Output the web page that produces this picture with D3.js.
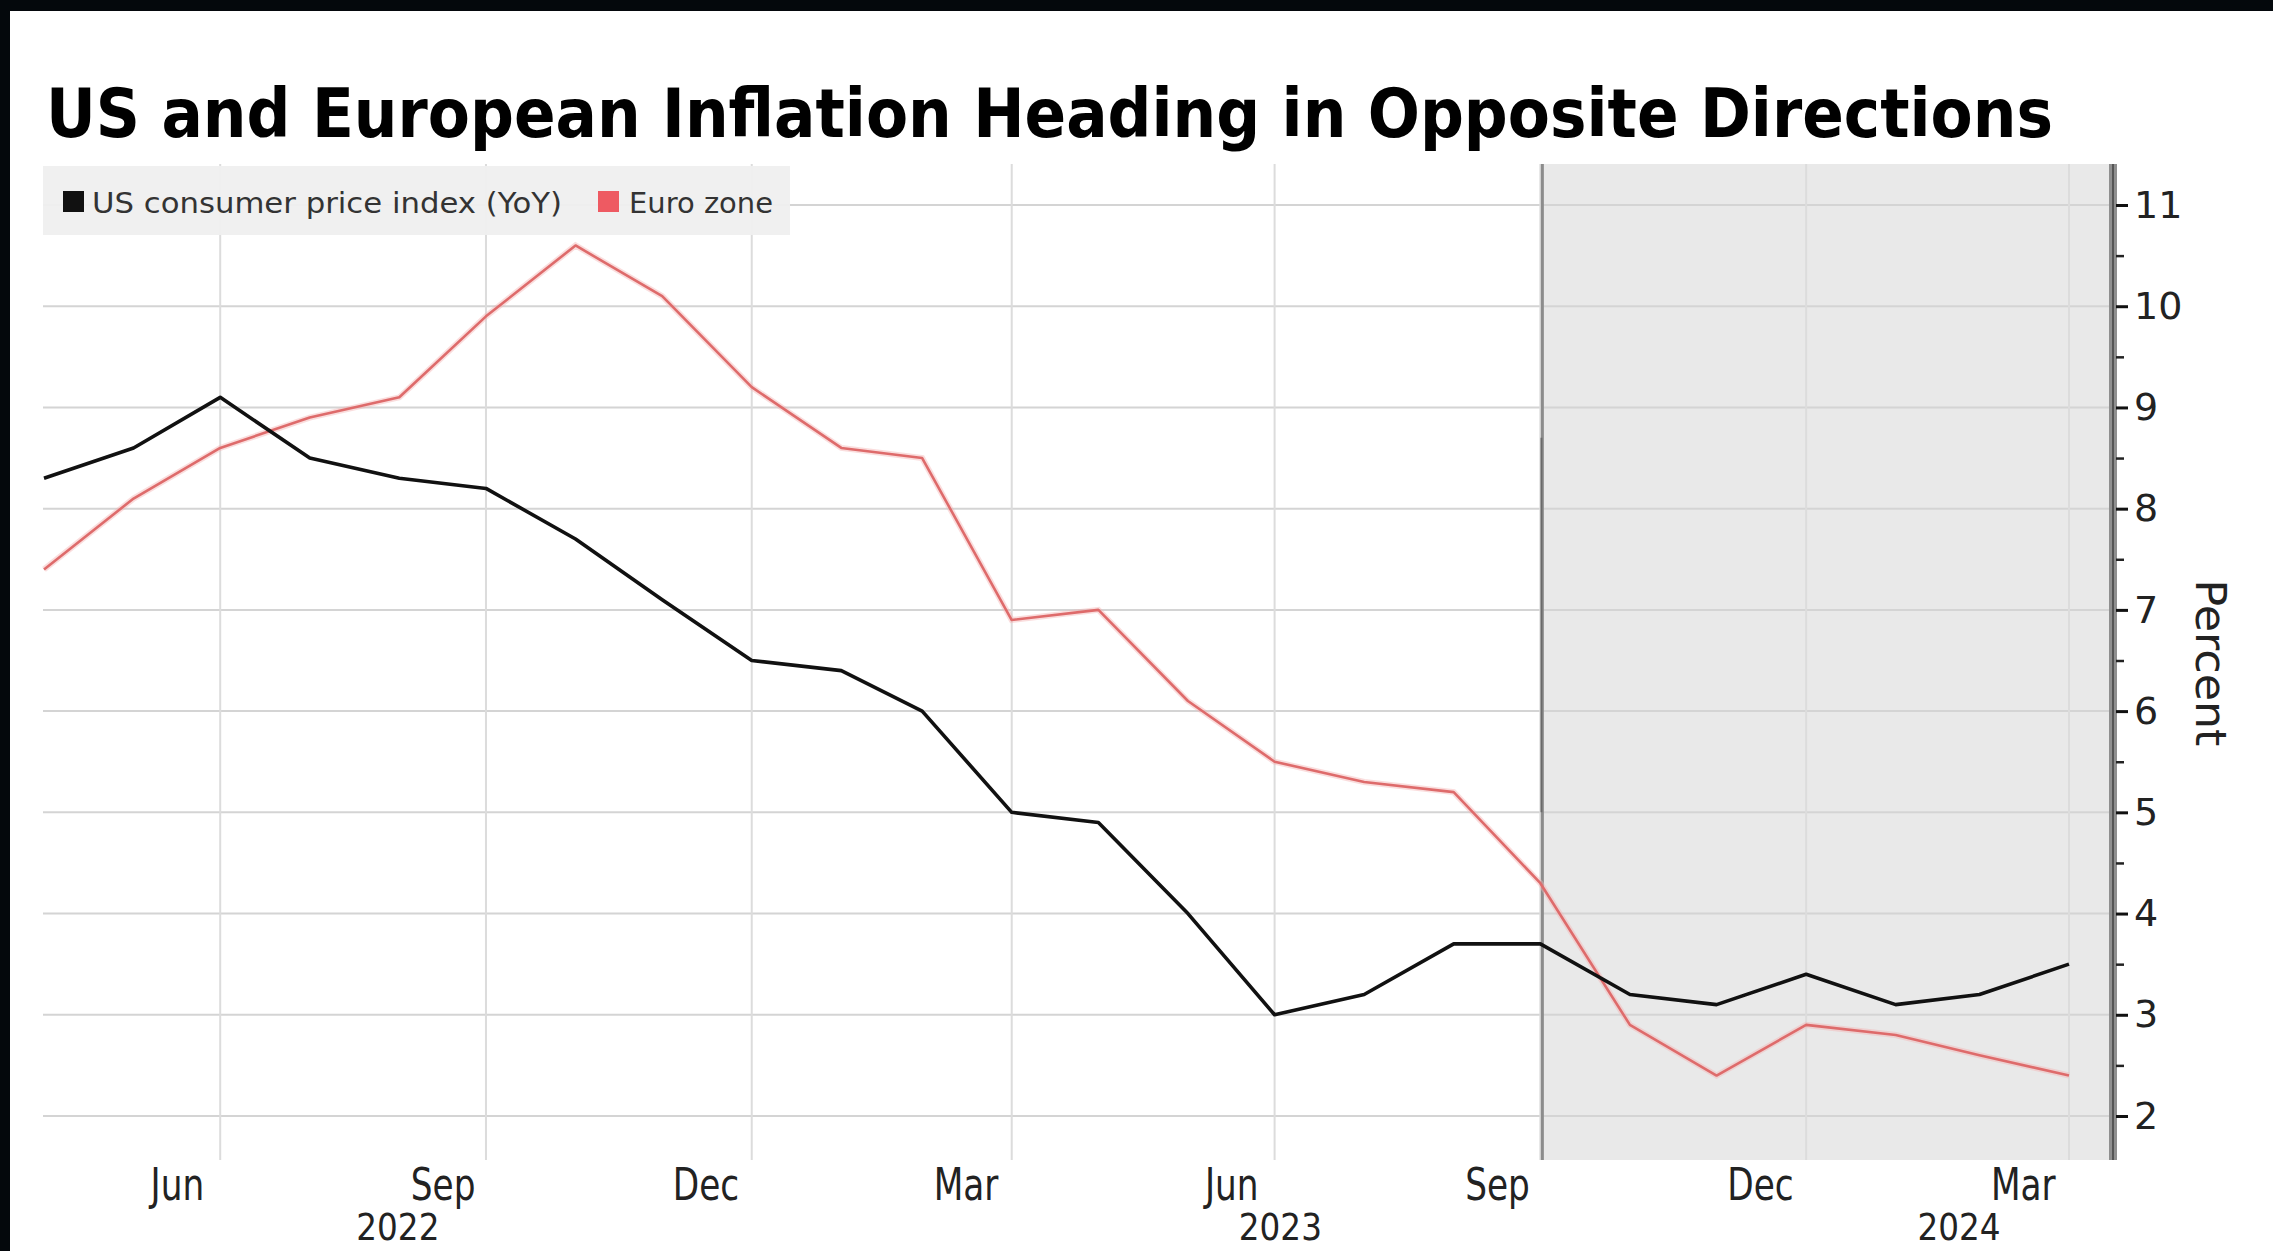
<!DOCTYPE html>
<html><head><meta charset="utf-8">
<script src="https://cdn.jsdelivr.net/npm/d3@7"></script>
<style>html,body{margin:0;padding:0;background:#fff;overflow:hidden}</style>
</head><body><svg id="c" width="2273" height="1251"></svg>
<script>
// ---- data ----
const months = ["2022-04","2022-05","2022-06","2022-07","2022-08","2022-09","2022-10","2022-11","2022-12",
  "2023-01","2023-02","2023-03","2023-04","2023-05","2023-06","2023-07","2023-08","2023-09","2023-10","2023-11","2023-12",
  "2024-01","2024-02","2024-03"];
const usCPI   = [8.3,8.6,9.1,8.5,8.3,8.2,7.7,7.1,6.5,6.4,6.0,5.0,4.9,4.0,3.0,3.2,3.7,3.7,3.2,3.1,3.4,3.1,3.2,3.5];
const euroCPI = [7.4,8.1,8.6,8.9,9.1,9.9,10.6,10.1,9.2,8.6,8.5,6.9,7.0,6.1,5.5,5.3,5.2,4.3,2.9,2.4,2.9,2.8,2.6,2.4];
const monthTicks = ["2022-06","2022-09","2022-12","2023-03","2023-06","2023-09","2023-12","2024-03"];
const monthTickLabels = ["Jun","Sep","Dec","Mar","Jun","Sep","Dec","Mar"];
const yearLabels = ["2022","2023","2024"];
const yTicks = [2,3,4,5,6,7,8,9,10,11];
const yMinorTicks = [2.5,3.5,4.5,5.5,6.5,7.5,8.5,9.5,10.5];
const shadeStart = "2023-09";
const seriesNames = ["US consumer price index (YoY)","Euro zone"];
const title = "US and European Inflation Heading in Opposite Directions";

// ---- layout ----
const W = 2273, H = 1251;
const plotTop = 164, plotBottom = 1160, plotRight = 2109, plotLeft = 43;
const FONT = "'DejaVu Sans', sans-serif";
const parseM = d3.timeParse("%Y-%m");
const parseD = d3.timeParse("%Y-%m-%d");
const monthEnd = s => d3.timeDay.offset(d3.timeMonth.offset(parseM(s), 1), -1);
const midMonth = s => d3.timeDay.offset(parseM(s), 14);

const x = d3.scaleTime().domain([monthEnd(months[0]), monthEnd(months[months.length-1])]).range([44, 2069]);
const y = d3.scaleLinear().domain([2, 11]).range([1116, 205]);

const svg = d3.select("#c");
svg.append("rect").attr("width", W).attr("height", H).attr("fill", "#fff");
// dark frame edges
svg.append("rect").attr("x",0).attr("y",0).attr("width",W).attr("height",11).attr("fill","#04080c");
svg.append("rect").attr("x",0).attr("y",0).attr("width",10).attr("height",H).attr("fill","#04080c");

// shaded region
const xs = x(monthEnd(shadeStart));
svg.append("rect").attr("x", xs+2).attr("y", plotTop).attr("width", plotRight - xs - 2)
  .attr("height", plotBottom - plotTop).attr("fill", "#e9e9e9");

// gridlines
const g = svg.append("g");
g.selectAll("line.h").data(yTicks).join("line")
  .attr("x1", plotLeft).attr("x2", plotRight).attr("y1", d=>y(d)).attr("y2", d=>y(d))
  .attr("stroke", "#d4d4d4").attr("stroke-width", 2);
g.selectAll("line.v").data(monthTicks).join("line")
  .attr("x1", d=>x(monthEnd(d))).attr("x2", d=>x(monthEnd(d)))
  .attr("y1", plotTop).attr("y2", plotBottom)
  .attr("stroke", "#dcdcdc").attr("stroke-width", 2);

// shade edge line
svg.append("line").attr("x1", xs+2).attr("x2", xs+2).attr("y1", plotTop).attr("y2", plotBottom)
  .attr("stroke", "#8c8c8c").attr("stroke-width", 3);
svg.append("line").attr("x1", xs+1).attr("x2", xs+1).attr("y1", y(8.7)).attr("y2", y(5.0))
  .attr("stroke", "#555").attr("stroke-width", 2).attr("opacity", 0.6);

// lines
const line = d3.line().x((d,i)=>x(monthEnd(months[i]))).y(d=>y(d));
svg.append("path").datum(euroCPI).attr("d", line).attr("fill","none")
  .attr("stroke","#f3b4b4").attr("stroke-width",6).attr("opacity",0.45);
svg.append("path").datum(euroCPI).attr("d", line).attr("fill","none")
  .attr("stroke","#de6b6b").attr("stroke-width",2.6).attr("stroke-linejoin","round");
svg.append("path").datum(usCPI).attr("d", line).attr("fill","none")
  .attr("stroke","#111").attr("stroke-width",3.6).attr("stroke-linejoin","round");

// legend
const lg = svg.append("g");
lg.append("rect").attr("x",43).attr("y",166).attr("width",747).attr("height",69).attr("fill","#efefef").attr("opacity",0.95);
lg.append("rect").attr("x",63).attr("y",191).attr("width",21).attr("height",21).attr("fill","#111");
lg.append("text").attr("x",92).attr("y",213).text(seriesNames[0])
  .attr("font-family",FONT).attr("font-size",29).attr("fill","#333")
  .attr("textLength",470).attr("lengthAdjust","spacingAndGlyphs");
lg.append("rect").attr("x",598).attr("y",191).attr("width",21).attr("height",21).attr("fill","#ee5a62");
lg.append("text").attr("x",629).attr("y",213).text(seriesNames[1])
  .attr("font-family",FONT).attr("font-size",29).attr("fill","#333")
  .attr("textLength",144).attr("lengthAdjust","spacingAndGlyphs");

// title
svg.append("text").attr("x",46).attr("y",137).text(title)
  .attr("font-family",FONT).attr("font-weight","bold").attr("font-size",67).attr("fill","#000")
  .attr("textLength",2007).attr("lengthAdjust","spacingAndGlyphs");

// right axis bar
svg.append("rect").attr("x",plotRight).attr("y",plotTop).attr("width",8).attr("height",plotBottom-plotTop).attr("fill","#8f8f8f");
svg.append("line").attr("x1",plotRight+4).attr("x2",plotRight+4).attr("y1",plotTop).attr("y2",plotBottom).attr("stroke","#555").attr("stroke-width",2);

const yAxis = d3.axisRight(y).tickValues(yTicks).tickSize(12).tickPadding(6).tickFormat(d3.format("d"));
const ya = svg.append("g").attr("transform",`translate(${plotRight+7},0)`).call(yAxis);
ya.select(".domain").remove();
ya.selectAll(".tick line").attr("stroke","#111").attr("stroke-width",3);
ya.selectAll(".tick text").attr("font-family",FONT).attr("font-size",38).attr("fill","#222");
const yMinor = d3.axisRight(y).tickValues(yMinorTicks).tickSize(8).tickFormat("");
const ym = svg.append("g").attr("transform",`translate(${plotRight+7},0)`).call(yMinor);
ym.select(".domain").remove();
ym.selectAll(".tick line").attr("stroke","#222").attr("stroke-width",2.5);

// Percent label
svg.append("text").attr("transform",`translate(2196,663) rotate(90)`).attr("text-anchor","middle")
  .text("Percent").attr("font-family",FONT).attr("font-size",42).attr("fill","#222")
  .attr("textLength",167).attr("lengthAdjust","spacingAndGlyphs");

// bottom axis month labels
const xAxis = d3.axisBottom(x).tickValues(monthTicks.map(midMonth)).tickSize(0).tickPadding(0)
  .tickFormat((d,i)=>monthTickLabels[i]);
const xa = svg.append("g").attr("transform","translate(0,1200)").call(xAxis);
xa.select(".domain").remove();
xa.selectAll(".tick text").attr("dy",0).attr("y",0).attr("x",0).attr("font-family",FONT).attr("font-size",44)
  .attr("fill","#222").attr("transform","scale(0.78,1)");

// year labels
const yearCenters = [
  (x.range()[0] + x(parseD("2022-12-31")))/2,
  (x(parseD("2023-01-01")) + x(parseD("2023-12-31")))/2,
  (x(parseD("2024-01-01")) + plotRight)/2
];
svg.selectAll("g.yr").data(yearLabels).join("g").attr("class","yr")
  .attr("transform",(d,i)=>`translate(${yearCenters[i]},1240) scale(0.86,1)`)
  .append("text").attr("text-anchor","middle").text(d=>d)
  .attr("font-family",FONT).attr("font-size",38).attr("fill","#222");
</script></body></html>
